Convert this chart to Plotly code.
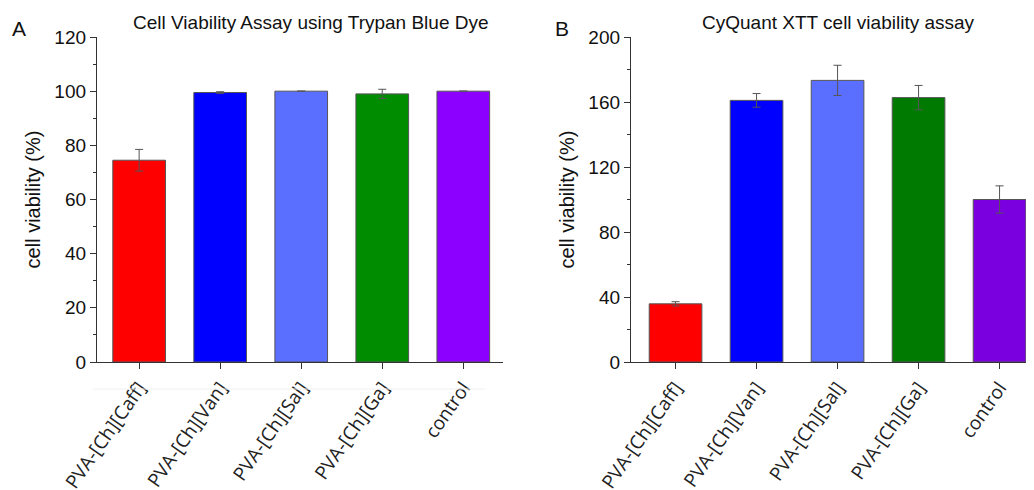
import plotly.graph_objects as go

categories = ["PVA-[Ch][Caff]", "PVA-[Ch][Van]", "PVA-[Ch][Sal]", "PVA-[Ch][Ga]", "control"]

trypan_values = [74.5, 99.5, 100.0, 99.0, 100.0]
trypan_errors = [4.0, 0.3, 0.0, 1.7, 0.0]
trypan_colors = ["#FF0000", "#0000FF", "#5A6EFF", "#008C00", "#8C00FF"]

xtt_values = [35.8, 161.0, 173.3, 162.7, 100.0]
xtt_errors = [1.3, 4.2, 9.3, 7.5, 8.4]
xtt_colors = ["#FF0000", "#0000FF", "#5A6EFF", "#007A00", "#7A00E0"]

W, H = 1034, 490
OFF = 8  # page body margin
FONT = "Liberation Sans"
LBL_FONT = "Open Sans"


def px(x):
    return (x - OFF) / W


def py(y):
    return 1 - (y - OFF) / H


fig = go.Figure()

fig.add_trace(go.Bar(
    x=categories, y=trypan_values, xaxis="x", yaxis="y",
    marker=dict(color=trypan_colors, line=dict(color="#555555", width=1)),
    width=0.65,
    error_y=dict(type="data", array=trypan_errors, color="#555555", thickness=1, width=4),
    showlegend=False,
))
fig.add_trace(go.Bar(
    x=categories, y=xtt_values, xaxis="x2", yaxis="y2",
    marker=dict(color=xtt_colors, line=dict(color="#555555", width=1)),
    width=0.65,
    error_y=dict(type="data", array=xtt_errors, color="#555555", thickness=1, width=4),
    showlegend=False,
))

ydom = [py(362), py(37)]

xcommon = dict(
    showline=True, linecolor="#333333", linewidth=1.3, ticks="outside", ticklen=6,
    tickcolor="#333333", tickangle=-55, showgrid=False, zeroline=False, automargin=False,
    tickfont=dict(family=LBL_FONT, size=19, color="#222222"),
)
ycommon = dict(
    showline=True, linecolor="#333333", linewidth=1.3, ticks="outside", ticklen=6,
    tickcolor="#333333", showgrid=False, zeroline=False, automargin=False,
    tickfont=dict(family=FONT, size=19, color="#111111"),
    title=dict(text="cell viability (%)", font=dict(family=FONT, size=20, color="#111111"), standoff=8),
)

right_end_screen = W + OFF
fig.update_layout(
    width=W, height=H,
    margin=dict(l=0, r=0, t=0, b=0, autoexpand=False),
    paper_bgcolor="white", plot_bgcolor="white",
    bargap=0.35,
    xaxis=dict(domain=[px(97), px(503)], range=[-0.52, 4.49], anchor="y", **xcommon),
    yaxis=dict(domain=ydom, range=[0, 120], anchor="x", dtick=20,
               minor=dict(dtick=10, ticks="outside", ticklen=3, tickcolor="#333333"), **ycommon),
    xaxis2=dict(domain=[px(631), 1.0], range=[-0.55, -0.55 + (right_end_screen - 631) / 81.0],
                anchor="y2", **xcommon),
    yaxis2=dict(domain=ydom, range=[0, 200], anchor="x2", dtick=40,
                minor=dict(dtick=20, ticks="outside", ticklen=3, tickcolor="#333333"), **ycommon),
    annotations=[
        dict(text="Cell Viability Assay using Trypan Blue Dye", x=px(311), y=py(22),
             xref="paper", yref="paper", showarrow=False, xanchor="center", yanchor="middle",
             font=dict(family=FONT, size=19, color="#111111")),
        dict(text="CyQuant XTT cell viability assay", x=px(838), y=py(22),
             xref="paper", yref="paper", showarrow=False, xanchor="center", yanchor="middle",
             font=dict(family=FONT, size=19, color="#111111")),
        dict(text="A", x=px(19), y=py(28), xref="paper", yref="paper", showarrow=False,
             xanchor="center", yanchor="middle", font=dict(family=FONT, size=21, color="#111111")),
        dict(text="B", x=px(562), y=py(28), xref="paper", yref="paper", showarrow=False,
             xanchor="center", yanchor="middle", font=dict(family=FONT, size=21, color="#111111")),
    ],
    shapes=[
        dict(type="line", xref="paper", yref="paper", x0=px(93), x1=px(485),
             y0=py(389), y1=py(389), line=dict(color="#f0f0f0", width=1)),
    ],
)

fig.write_html("out.html")
